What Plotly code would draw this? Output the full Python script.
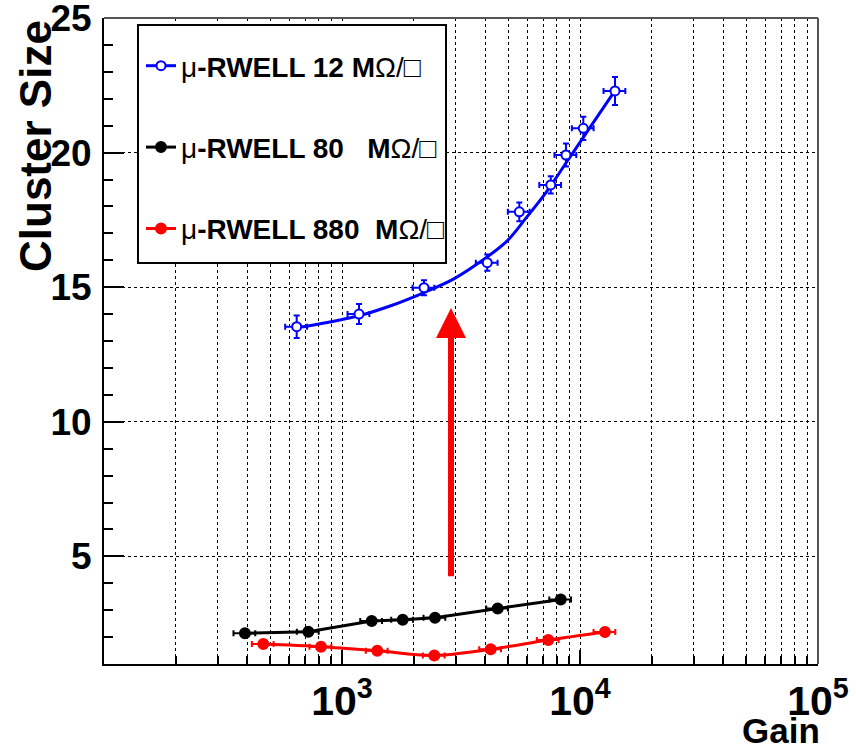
import plotly.graph_objects as go
import numpy as np

# ---- data ----
blue_x = [645, 1179, 2211, 4077, 5559, 7535, 8730, 10325, 14030]
blue_y = [13.53, 14.00, 14.98, 15.91, 17.80, 18.80, 19.91, 20.90, 22.29]
blue_xerr = [68, 124, 232, 428, 584, 791, 917, 1084, 1473]
blue_yerr = [0.42, 0.37, 0.28, 0.30, 0.35, 0.32, 0.43, 0.43, 0.52]

# fitted curve drawn through the blue points
blue_fit_x = [680, 1191, 1592, 2213, 2938, 3681, 4920, 5970, 7244, 8790, 10666, 14028]
blue_fit_y = [13.52, 13.95, 14.30, 14.80, 15.30, 15.85, 16.70, 17.60, 18.55, 19.65, 20.75, 22.30]

black_x = [391, 722, 1333, 1799, 2459, 4510, 8299]
black_y = [2.14, 2.20, 2.60, 2.64, 2.72, 3.06, 3.40]
black_xerr = [41, 76, 140, 189, 258, 474, 871]
black_yerr = [0.06, 0.06, 0.06, 0.06, 0.06, 0.06, 0.06]

red_x = [467, 816, 1407, 2442, 4214, 7359, 12735]
red_y = [1.74, 1.64, 1.49, 1.32, 1.55, 1.89, 2.19]
red_xerr = [49, 86, 148, 256, 442, 773, 1337]
red_yerr = [0.06, 0.06, 0.06, 0.06, 0.06, 0.06, 0.06]

names = ["\u03bc<b>-RWELL 12 M</b>\u03a9/\u25a1",
         "\u03bc<b>-RWELL 80 \u00a0 M</b>\u03a9/\u25a1",
         "\u03bc<b>-RWELL 880 \u00a0M</b>\u03a9/\u25a1"]

x_major = [100, 1000, 10000, 100000]
x_major_text = ["", "10<sup>3</sup>", "10<sup>4</sup>", "10<sup>5</sup>"]
x_minor = [m * d for d in (100, 1000, 10000) for m in range(2, 10)]
y_major = [5, 10, 15, 20, 25]

arrow_x = 2871
arrow_y_tip = 14.23
arrow_y_tail = 4.2

FONT = "Liberation Sans, Arial, sans-serif"
BLUE, BLACK, RED = "#0000ff", "#000000", "#ff0000"

fig = go.Figure()

def marker(color, open_marker):
    return dict(symbol="circle", size=9 if open_marker else 10,
                color="white" if open_marker else color,
                line=dict(color=color, width=2))

def errs(xe, ye, color):
    return dict(error_x=dict(type="data", array=xe, color=color, thickness=2, width=3),
                error_y=dict(type="data", array=ye, color=color, thickness=2, width=3))

# blue: legend entry, fit curve, data points
fig.add_trace(go.Scatter(x=[None], y=[None], mode="lines+markers", name=names[0],
                         legendgroup="g1", line=dict(color=BLUE, width=3),
                         marker=marker(BLUE, True)))
fig.add_trace(go.Scatter(x=blue_fit_x, y=blue_fit_y, mode="lines", legendgroup="g1",
                         showlegend=False, line=dict(color=BLUE, width=3, shape="spline",
                                                     smoothing=1.0)))
fig.add_trace(go.Scatter(x=blue_x, y=blue_y, mode="markers", legendgroup="g1",
                         showlegend=False, marker=marker(BLUE, True),
                         **errs(blue_xerr, blue_yerr, BLUE)))

fig.add_trace(go.Scatter(x=black_x, y=black_y, mode="lines+markers", name=names[1],
                         legendgroup="g2", line=dict(color=BLACK, width=3),
                         marker=marker(BLACK, False), **errs(black_xerr, black_yerr, BLACK)))
fig.add_trace(go.Scatter(x=red_x, y=red_y, mode="lines+markers", name=names[2],
                         legendgroup="g3",
                         line=dict(color=RED, width=3, shape="spline", smoothing=1.0),
                         marker=marker(RED, False), **errs(red_xerr, red_yerr, RED)))

# invisible trace on minor-tick axis so it is drawn
fig.add_trace(go.Scatter(x=[1000], y=[10], xaxis="x2", mode="markers",
                         marker=dict(opacity=0), showlegend=False, hoverinfo="skip"))

L, R, T, B = 104, 38, 18, 85
W, H = 856, 749
pw, ph = W - L - R, H - T - B

def px(xp):
    return (xp - L) / pw

def py(yp):
    return (H - B - yp) / ph

fig.update_layout(
    width=W, height=H, autosize=False,
    margin=dict(l=L, r=R, t=T, b=B, pad=0, autoexpand=False),
    paper_bgcolor="white", plot_bgcolor="white",
    font=dict(family=FONT, color="black"),
    showlegend=True,
    legend=dict(x=px(141), y=py(41), xanchor="left", yanchor="top",
                bgcolor="rgba(0,0,0,0)", borderwidth=0,
                font=dict(family=FONT, size=28, color="black"),
                traceorder="grouped", tracegroupgap=42, itemwidth=30),
    xaxis=dict(type="log", range=[2, 5], tickmode="array", tickvals=x_major,
               ticktext=x_major_text, ticks="inside", ticklen=14, tickwidth=2,
               tickcolor="black", showline=True, linecolor="black", linewidth=2,
               showgrid=True, gridcolor="black", griddash="dot", gridwidth=1,
               zeroline=False, tickfont=dict(family=FONT, size=41, weight="bold"),
               ticklabelstandoff=0, ticklabeloverflow="allow", automargin=False),
    xaxis2=dict(type="log", range=[2, 5], overlaying="x", anchor="y", side="bottom",
                tickmode="array", tickvals=x_minor, ticktext=[""] * len(x_minor),
                ticks="inside", ticklen=8, tickwidth=2, tickcolor="black",
                showline=False, showgrid=True, gridcolor="black", griddash="dot",
                gridwidth=1, zeroline=False, automargin=False),
    yaxis=dict(range=[1, 25.0], tickmode="array", tickvals=y_major,
               ticks="inside", ticklen=20, tickwidth=2, tickcolor="black",
               minor=dict(tickmode="linear", tick0=0, dtick=1, ticks="inside",
                          ticklen=9, tickwidth=2, tickcolor="black", showgrid=False),
               showline=True, linecolor="black", linewidth=2,
               showgrid=True, gridcolor="black", griddash="dot", gridwidth=1,
               zeroline=False, tickfont=dict(family=FONT, size=37, weight="bold"),
               ticklabelstandoff=3, ticklabeloverflow="allow", automargin=False),
)

# frame (top/right) and legend box
fig.add_shape(type="line", xref="paper", yref="paper", x0=0, x1=1, y0=1, y1=1,
              line=dict(color="#555555", width=2))
fig.add_shape(type="line", xref="paper", yref="paper", x0=1, x1=1, y0=0, y1=1,
              line=dict(color="#555555", width=2))
fig.add_shape(type="rect", xref="paper", yref="paper",
              x0=px(138), x1=px(446), y0=py(263), y1=py(25),
              line=dict(color="black", width=2), fillcolor="white", layer="above")

# arrow
fig.add_annotation(x=np.log10(arrow_x), y=arrow_y_tip, ax=np.log10(arrow_x), ay=arrow_y_tail,
                   xref="x", yref="y", axref="x", ayref="y", text="", showarrow=True,
                   arrowhead=2, arrowsize=1.0, arrowwidth=6, arrowcolor=RED)

# axis titles
fig.add_annotation(text="<b>Cluster Size</b>", xref="paper", yref="paper",
                   x=px(35), y=py(18), xanchor="center", yanchor="top", textangle=-90,
                   showarrow=False, font=dict(family=FONT, size=44, color="black"))
fig.add_annotation(text="<b>Gain</b>", xref="paper", yref="paper",
                   x=px(822), y=py(730), xanchor="right", yanchor="middle",
                   showarrow=False, font=dict(family=FONT, size=35, color="black"))

fig.write_html("out.html")
